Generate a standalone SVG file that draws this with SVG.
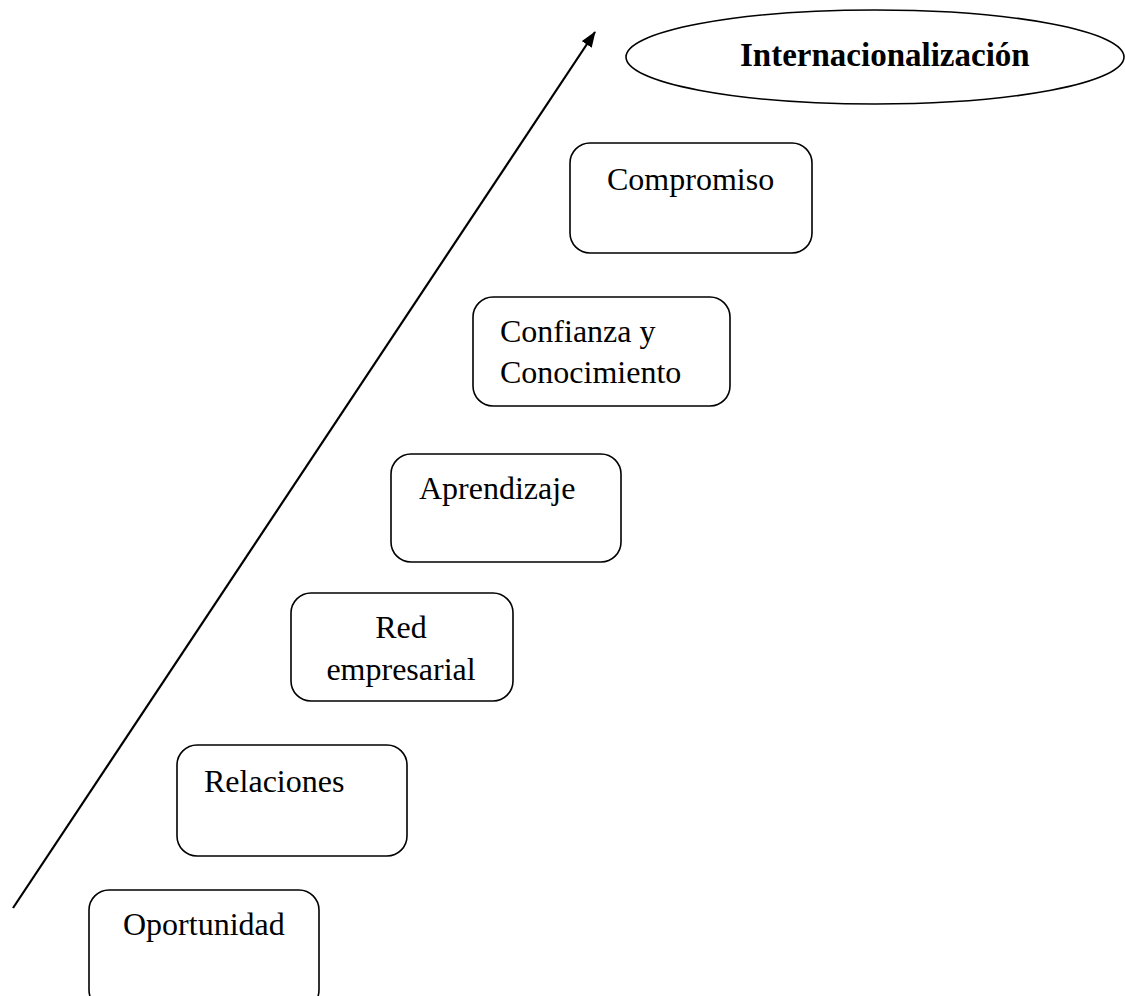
<svg xmlns="http://www.w3.org/2000/svg" width="1125" height="996" viewBox="0 0 1125 996">
  <style>
    .box { fill: #ffffff; stroke: #000000; stroke-width: 1.6; }
    .lbl { font-family: "Liberation Serif", "Times New Roman", serif; font-size: 32px; fill: #000000; }
    .title { font-family: "Liberation Serif", "Times New Roman", serif; font-size: 33px; font-weight: bold; fill: #000000; }
    .conn { fill: none; stroke: #000000; stroke-width: 2.2; }
  </style>
  <defs>
    <marker id="arrowhead" viewBox="0 0 16 12" refX="15" refY="6" markerWidth="16" markerHeight="12" markerUnits="userSpaceOnUse" orient="auto">
      <path d="M0,0 L16,6 L0,12 z" fill="#000000"/>
    </marker>
  </defs>
  <rect width="1125" height="996" fill="#ffffff"/>

  <g id="connectors">
    <line class="conn" x1="13" y1="908" x2="595" y2="32" marker-end="url(#arrowhead)"/>
  </g>

  <g id="internacionalizacion">
    <ellipse class="box" cx="875" cy="57" rx="249" ry="47"/>
    <text class="title" x="740" y="66">Internacionalización</text>
  </g>

  <g id="compromiso">
    <rect class="box" x="570" y="143" width="242" height="110" rx="20"/>
    <text class="lbl" x="607" y="190">Compromiso</text>
  </g>

  <g id="confianza">
    <rect class="box" x="473" y="297" width="257" height="109" rx="20"/>
    <text class="lbl" x="500" y="342">Confianza y</text>
    <text class="lbl" x="500" y="383">Conocimiento</text>
  </g>

  <g id="aprendizaje">
    <rect class="box" x="391" y="454" width="230" height="108" rx="20"/>
    <text class="lbl" x="419" y="499">Aprendizaje</text>
  </g>

  <g id="red-empresarial">
    <rect class="box" x="291" y="593" width="222" height="108" rx="20"/>
    <text class="lbl" x="401" y="638" text-anchor="middle">Red</text>
    <text class="lbl" x="401" y="680" text-anchor="middle">empresarial</text>
  </g>

  <g id="relaciones">
    <rect class="box" x="177" y="745" width="230" height="111" rx="20"/>
    <text class="lbl" x="204" y="792">Relaciones</text>
  </g>

  <g id="oportunidad">
    <rect class="box" x="89" y="890" width="230" height="120" rx="20"/>
    <text class="lbl" x="123" y="935">Oportunidad</text>
  </g>
</svg>
